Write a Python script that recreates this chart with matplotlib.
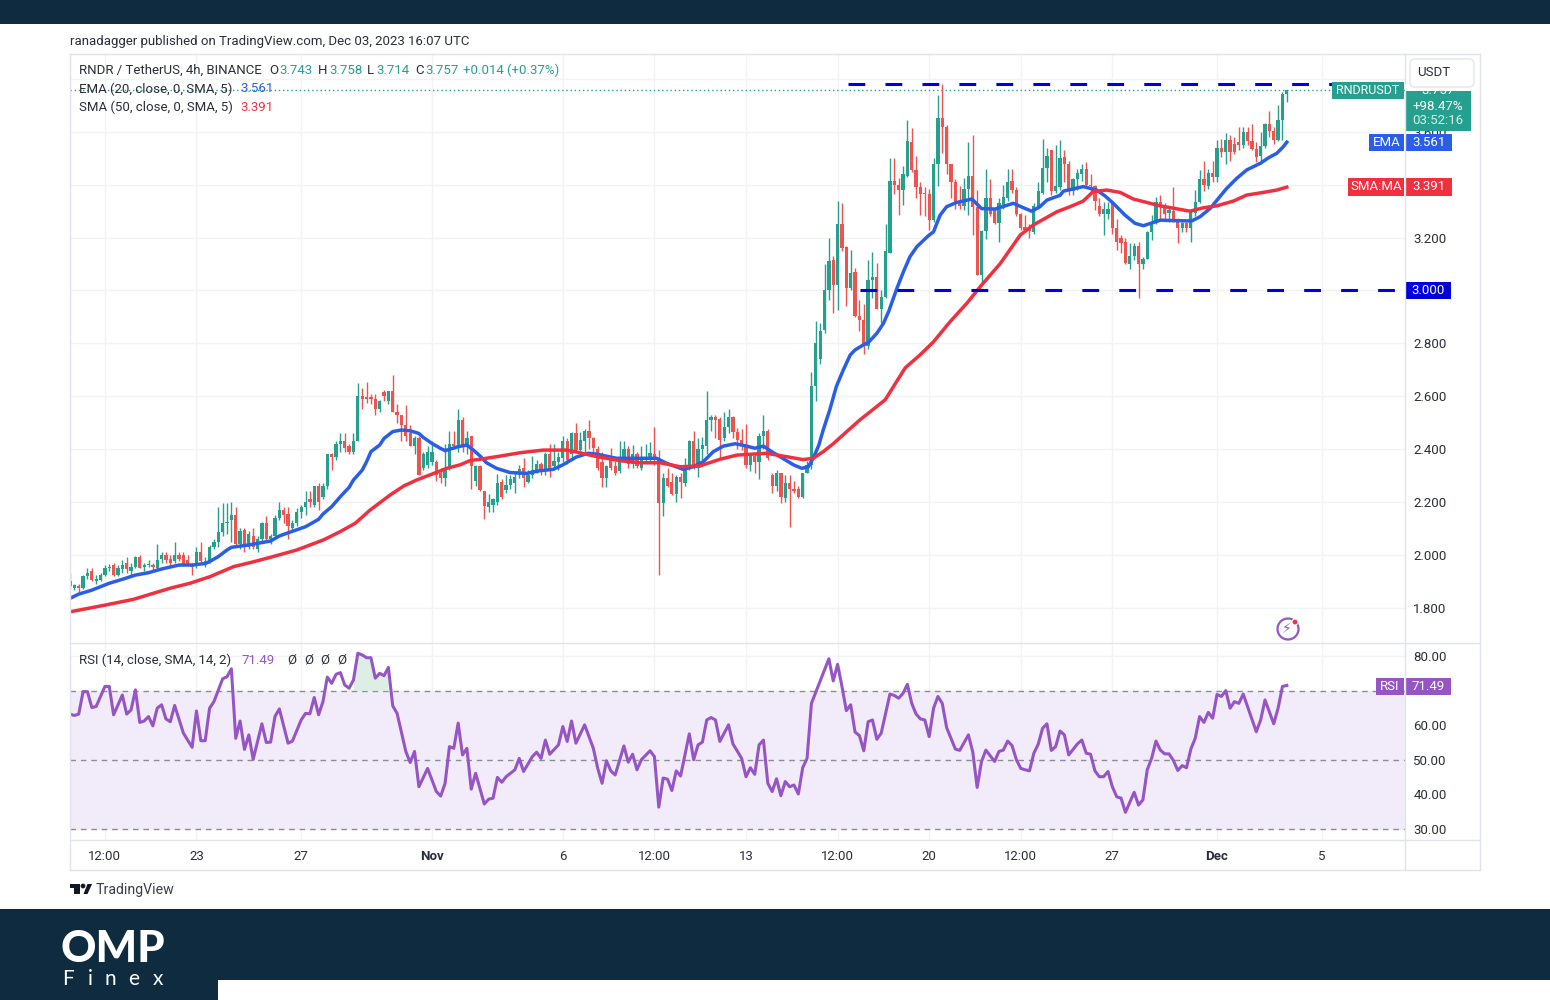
import numpy as np
from matplotlib import pyplot as plt
from matplotlib.patches import Rectangle, FancyBboxPatch, Circle, Polygon
from matplotlib.lines import Line2D
from matplotlib.transforms import Affine2D

plt.rcParams['font.family'] = ['Roboto', 'DejaVu Sans']

# 4h candles
opens = [1.90,1.875,1.88,1.875,1.92,1.94,1.90,1.905,1.925,1.95,
    1.96,1.925,1.945,1.97,1.94,1.955,1.99,1.955,1.96,1.96,
    1.95,1.985,2.0,1.985,1.975,2.0,2.0,1.98,1.96,1.96,
    2.01,1.965,1.975,2.03,2.05,2.085,2.12,2.13,2.15,2.04,
    2.095,2.03,2.07,2.02,2.06,2.12,2.06,2.07,2.14,2.17,
    2.155,2.1,2.12,2.16,2.18,2.21,2.19,2.26,2.22,2.26,
    2.38,2.37,2.42,2.43,2.41,2.39,2.43,2.6,2.595,2.595,
    2.59,2.55,2.615,2.58,2.62,2.54,2.53,2.49,2.46,2.41,
    2.44,2.33,2.34,2.35,2.35,2.31,2.29,2.33,2.42,2.41,
    2.51,2.41,
    2.45,2.28,2.335,2.24,2.18,2.19,2.2,2.275,2.245,2.265,
    2.27,2.30,2.33,2.275,2.30,2.32,2.345,2.32,2.38,2.335,
    2.35,2.365,2.43,2.38,2.46,2.395,2.43,2.47,2.44,2.40,
    2.35,2.29,2.36,2.335,2.315,2.365,2.40,2.345,2.38,2.33,
    2.365,2.37,2.38,2.36,2.195,2.29,2.275,2.23,2.295,2.27,
    2.325,2.43,2.33,2.40,2.41,2.51,2.52,2.515,2.44,2.485,
    2.52,2.465,2.435,2.415,2.34,2.375,2.35,2.45,2.47,2.30,
    2.26,2.31,2.215,2.27,2.25,2.25,2.22,2.31,2.34,
    2.64,2.74,2.85,3.0,3.115,3.02,3.25,3.165,3.01,3.07,
    2.905,2.89,2.79,3.04,3.05,2.93,2.975,3.14,3.415,3.40,
    3.38,3.435,3.56,3.455,3.39,3.37,3.365,3.265,3.48,3.654,
    3.62,3.478,3.41,3.335,3.32,3.385,3.435,3.315,3.058,3.225,
    3.35,3.31,3.255,3.325,3.35,3.415,3.38,3.29,3.24,3.235,
    3.22,3.32,3.37,3.465,3.53,3.375,
    3.39,3.505,3.48,3.375,3.42,3.44,3.46,3.40,3.395,3.32,
    3.29,3.29,3.33,3.235,3.20,3.185,3.10,3.13,3.17,3.10,
    3.12,3.22,3.26,3.335,3.32,3.295,3.30,3.265,3.235,3.255,
    3.235,3.295,3.335,3.42,3.395,3.445,3.43,3.54,3.525,3.57,
    3.555,3.56,3.55,3.60,3.565,3.535,3.51,3.545,3.63,3.605,
    3.57,3.645,3.743]
closes = [1.88,1.885,1.875,1.92,1.93,1.905,1.91,1.925,1.95,1.955,
    1.925,1.95,1.96,1.945,1.955,1.99,1.95,1.96,1.965,1.955,
    1.98,2.0,1.98,1.97,2.0,1.985,1.965,1.965,1.955,2.01,
    1.975,1.975,2.03,2.05,2.085,2.12,2.125,2.15,2.04,2.09,
    2.03,2.08,2.03,2.06,2.12,2.06,2.07,2.14,2.17,2.15,
    2.11,2.12,2.16,2.18,2.2,2.2,2.26,2.2,2.26,2.38,
    2.37,2.42,2.43,2.405,2.39,2.43,2.6,2.59,2.59,2.59,
    2.55,2.58,2.6,2.62,2.54,2.53,2.49,2.45,2.41,2.44,
    2.3,2.38,2.39,2.39,2.3,2.29,2.33,2.42,2.41,2.51,
    2.41,2.44,
    2.335,2.335,2.245,2.185,2.2,2.21,2.27,2.22,2.265,2.285,
    2.295,2.325,2.29,2.30,2.32,2.345,2.315,2.38,2.325,2.355,
    2.37,2.43,2.36,2.46,2.395,2.435,2.47,2.44,2.405,2.33,
    2.29,2.335,2.33,2.31,2.365,2.40,2.345,2.38,2.335,2.365,
    2.37,2.385,2.37,2.195,2.29,2.26,2.23,2.295,2.275,2.325,
    2.43,2.33,2.40,2.415,2.51,2.52,2.51,2.435,2.485,2.52,
    2.465,2.435,2.415,2.34,2.375,2.35,2.45,2.47,2.365,2.26,
    2.31,2.22,2.27,2.25,2.24,2.22,2.31,2.34,2.64,
    2.80,2.845,3.0,3.11,3.02,3.25,3.16,3.01,3.065,2.905,
    2.89,2.79,3.04,3.05,2.93,2.975,3.15,3.415,3.40,3.38,
    3.44,3.565,3.455,3.39,3.365,3.365,3.265,3.48,3.654,3.617,
    3.478,3.41,3.333,3.32,3.385,3.435,3.315,3.058,3.225,3.35,
    3.29,3.255,3.33,3.355,3.41,3.38,3.29,3.235,3.23,3.225,
    3.32,3.375,3.465,3.51,3.375,3.395,
    3.50,3.48,3.375,3.42,3.445,3.46,3.40,3.395,3.34,3.29,
    3.31,3.31,3.235,3.185,3.18,3.105,3.13,3.17,3.10,3.12,
    3.22,3.26,3.335,3.32,3.29,3.305,3.265,3.235,3.255,3.235,
    3.30,3.335,3.42,3.40,3.445,3.43,3.54,3.525,3.57,3.525,
    3.525,3.55,3.60,3.565,3.535,3.505,3.545,3.63,3.605,3.57,
    3.645,3.745,3.757]
highs = [1.93,1.89,1.89,1.925,1.95,1.95,1.925,1.93,1.96,1.965,
    1.97,1.96,1.98,1.99,1.97,1.995,2.0,1.97,1.98,1.97,
    2.04,2.01,2.01,2.0,2.05,2.01,2.01,2.0,1.97,2.03,
    2.05,1.99,2.035,2.06,2.18,2.195,2.195,2.2,2.18,2.1,
    2.1,2.09,2.1,2.07,2.125,2.145,2.08,2.15,2.2,2.18,
    2.18,2.13,2.175,2.19,2.24,2.24,2.26,2.27,2.27,2.38,
    2.385,2.43,2.46,2.46,2.42,2.46,2.65,2.63,2.655,2.61,
    2.61,2.585,2.625,2.62,2.68,2.57,2.53,2.565,2.49,2.45,
    2.45,2.39,2.41,2.43,2.36,2.33,2.42,2.47,2.47,2.55,
    2.52,2.47,
    2.45,2.34,2.34,2.24,2.23,2.215,2.305,2.285,2.30,2.30,
    2.31,2.34,2.365,2.32,2.375,2.36,2.35,2.39,2.42,2.42,
    2.39,2.45,2.44,2.465,2.5,2.465,2.475,2.51,2.445,2.41,
    2.39,2.34,2.405,2.355,2.43,2.43,2.41,2.415,2.39,2.41,
    2.42,2.425,2.485,2.395,2.31,2.33,2.31,2.30,2.31,2.365,
    2.435,2.47,2.44,2.445,2.62,2.53,2.53,2.52,2.54,2.55,
    2.525,2.48,2.475,2.495,2.385,2.385,2.46,2.53,2.475,2.31,
    2.32,2.31,2.30,2.30,2.28,2.26,2.31,2.355,2.69,
    2.885,2.875,3.1,3.2,3.13,3.34,3.33,3.17,3.155,3.085,
    2.965,2.95,3.115,3.145,3.105,3.0,3.25,3.5,3.5,3.425,
    3.47,3.645,3.615,3.51,3.41,3.39,3.385,3.50,3.74,3.783,
    3.625,3.48,3.42,3.395,3.425,3.56,3.59,3.38,3.23,3.46,
    3.42,3.315,3.35,3.40,3.46,3.46,3.39,3.295,3.285,3.25,
    3.33,3.41,3.575,3.54,3.53,3.55,
    3.57,3.53,3.49,3.425,3.46,3.48,3.485,3.44,3.40,3.35,
    3.335,3.335,3.34,3.27,3.21,3.20,3.18,3.18,3.185,3.125,
    3.225,3.285,3.355,3.36,3.33,3.32,3.39,3.275,3.26,3.26,
    3.305,3.38,3.455,3.49,3.46,3.49,3.57,3.575,3.595,3.59,
    3.58,3.62,3.62,3.62,3.63,3.56,3.60,3.635,3.68,3.62,
    3.70,3.75,3.758]
lows = [1.87,1.865,1.86,1.87,1.91,1.90,1.89,1.90,1.92,1.94,
    1.92,1.92,1.93,1.93,1.92,1.95,1.95,1.94,1.955,1.94,
    1.945,1.97,1.97,1.955,1.97,1.975,1.96,1.96,1.925,1.95,
    1.965,1.955,1.97,2.02,2.03,2.07,2.08,2.05,2.03,2.02,
    2.01,2.02,2.02,2.01,2.05,2.05,2.04,2.06,2.13,2.12,
    2.06,2.09,2.11,2.14,2.15,2.18,2.18,2.17,2.21,2.25,
    2.32,2.36,2.39,2.39,2.38,2.38,2.43,2.55,2.575,2.57,
    2.53,2.54,2.58,2.57,2.54,2.5,2.43,2.43,2.41,2.38,
    2.3,2.32,2.33,2.34,2.28,2.27,2.26,2.32,2.40,2.39,
    2.39,2.38,
    2.25,2.26,2.24,2.135,2.16,2.16,2.19,2.21,2.235,2.25,
    2.235,2.29,2.255,2.27,2.29,2.31,2.30,2.30,2.295,2.33,
    2.32,2.35,2.345,2.36,2.39,2.38,2.39,2.40,2.39,2.32,
    2.255,2.255,2.32,2.30,2.31,2.36,2.33,2.33,2.33,2.32,
    2.35,2.35,2.34,1.925,2.145,2.255,2.225,2.2,2.215,2.26,
    2.32,2.325,2.295,2.36,2.38,2.47,2.44,2.36,2.43,2.46,
    2.44,2.40,2.395,2.33,2.315,2.31,2.285,2.40,2.36,2.235,
    2.24,2.195,2.20,2.105,2.235,2.215,2.215,2.31,2.325,
    2.58,2.72,2.84,2.965,2.915,2.925,3.15,2.94,3.0,2.90,
    2.845,2.76,2.78,2.97,2.93,2.875,2.97,3.14,3.365,3.285,
    3.325,3.43,3.45,3.35,3.285,3.28,3.23,3.26,3.395,3.52,
    3.44,3.35,3.31,3.31,3.305,3.285,3.21,3.058,3.03,3.195,
    3.28,3.25,3.185,3.31,3.34,3.37,3.28,3.23,3.22,3.20,
    3.215,3.31,3.365,3.41,3.36,3.37,
    3.38,3.41,3.36,3.36,3.38,3.415,3.39,3.37,3.305,3.28,
    3.21,3.27,3.215,3.155,3.14,3.10,3.08,3.115,2.97,3.08,
    3.12,3.19,3.25,3.265,3.27,3.26,3.26,3.18,3.22,3.22,
    3.185,3.28,3.33,3.375,3.385,3.41,3.41,3.505,3.48,3.49,
    3.515,3.53,3.54,3.55,3.53,3.485,3.48,3.54,3.58,3.555,
    3.565,3.57,3.714]

# moving averages
ema_x = [0,2,5,7,9,12,15,18,21,25,28,31,32,34,36,37,41,43,46,48,50,54,57,58,60,62,64,65,67,68,69,71,72,74,76,78,80,81,83,85,86,89,91,
    92.5,94,95.5,97.8,100.9,104.7,107.8,110.8,113,116,118.8,120.7,125.3,130,134.5,136.8,140.6,142.9,145.2,147.5,149.8,152.5,155.2,157,159,160.9,162.8,165.9,167.8,169.3,170.4,171.7,172.7,174.2,175.7,177.3,
    178.9,180,181.9,183.1,185,186.5,187.7,189.6,191.1,192.6,194.2,196.8,198,199.5,201,203.3,206.8,209,212.1,216.3,218.6,220.5,222.4,224,227,
    227.8,232.3,235.4,237.3,239.2,241.9,244.2,246.1,250,253.7,257.2,259.1,261.4,263.3,265.2,267.5,269.8,272.9,274.8,276.7,278.2,279]
ema_y = [1.835,1.851,1.866,1.879,1.892,1.907,1.923,1.932,1.946,1.961,1.961,1.967,1.974,1.993,2.018,2.028,2.037,2.043,2.052,2.071,2.083,2.106,2.134,2.154,2.182,2.22,2.255,2.283,2.32,2.352,2.39,2.415,2.44,2.466,2.472,2.469,2.459,2.444,2.421,2.402,2.394,2.409,2.415,
    2.396,2.374,2.348,2.327,2.311,2.308,2.318,2.323,2.34,2.369,2.384,2.381,2.365,2.365,2.365,2.346,2.323,2.333,2.352,2.39,2.411,2.42,2.411,2.403,2.411,2.39,2.371,2.34,2.327,2.333,2.365,2.415,2.472,2.548,2.636,2.699,
    2.756,2.775,2.794,2.804,2.838,2.875,2.92,3.008,3.071,3.128,3.166,3.207,3.222,3.285,3.317,3.333,3.346,3.31,3.308,3.33,3.313,3.30,3.317,3.342,3.36,
    3.376,3.393,3.38,3.358,3.33,3.285,3.254,3.245,3.266,3.264,3.263,3.279,3.31,3.348,3.386,3.424,3.456,3.481,3.502,3.519,3.544,3.561]
sma_x = [0,7,14.5,18.3,22.9,27.5,32.1,34.8,37.5,41.3,45.9,52,58.1,61.9,65.4,68.8,73.4,76.5,79.5,83,86.4,89.4,91.7,95.5,99.3,103.2,108.5,113.9,116.9,120,126.1,130.7,135.3,139.9,144.4,149,152.9,159.7,164.3,168.1,170.4,172.7,175,178.1,181.1,
    186.9,191.5,194.9,198,201.8,205.6,209,213.3,217.9,220.9,226.3,229.3,232.3,234.6,237.7,240.8,243.8,246.9,250,256.8,259.9,262.9,266.7,269.8,273.6,276.7,279]
sma_y = [1.784,1.806,1.831,1.85,1.873,1.892,1.917,1.936,1.955,1.97,1.99,2.018,2.056,2.087,2.119,2.169,2.226,2.26,2.283,2.305,2.327,2.34,2.356,2.365,2.375,2.386,2.396,2.396,2.386,2.374,2.356,2.348,2.348,2.333,2.336,2.361,2.377,2.384,2.371,2.36,2.365,2.39,2.42,2.466,2.51,
    2.586,2.707,2.756,2.806,2.882,2.951,3.02,3.102,3.21,3.248,3.298,3.317,3.338,3.374,3.38,3.371,3.346,3.333,3.32,3.30,3.313,3.32,3.338,3.361,3.371,3.38,3.391]

# RSI pane
rsi_x = [0,1,2,3,4,5,6,8,9,10,12,13,14,15,16,17,18,19,20,21,22,23,24,26,28,29,30,31,32,33,35,36,37,38,39,40,41,42,44,45,46,47,48,
    50,51,53,54,55,56,57,58,59,60,61,62,63,64,65,66,67,68,69,70,71,72,73,74,75,77,78,79,80,82,84,85,86,87,88,89,90,91,92,93,95,96,97,98,99,
    100,102,103,104,106,107,108,109,110,112,113,114,115,116,118,120,121,122,123,124,125,127,128,129,130,131,133,134,135,136,137,138,139,140,142,143,144,145,146,147,148,149,
    151,152,154,155,156,157,158,159,160,161,162,163,164,165,166,167,168,169,170,174,175,176,177,178,179,180,181,182,183,184,185,186,188,189,190,191,192,193,194,195,196,197,198,199,
    200,201,203,204,206,207,208,209,210,212,213,214,215,216,217,218,219,220,221,222,223,224,225,226,227,228,229,231,232,233,234,235,236,237,238,239,240,241,242,244,245,246,247,248,249,
    250,251,252,253,254,255,256,257,258,259,260,261,262,263,264,265,266,267,268,269,272,273,274,276,277,278,279]
rsi_y = [63.2,62.8,63.2,69.7,69.7,65.1,65.4,71.2,71.2,63,68.7,63.2,64.4,70.2,60.8,61.2,62.5,59.8,64.9,65.9,61.8,61,65.7,57.7,53.6,64.1,55.5,55.5,64.9,66.8,73.4,74,76.3,56.2,61.2,53,57.2,50.1,60.4,55,55.1,62.5,64.7,
    54.8,55.4,61.5,63.4,63.3,68,63,66.8,73.9,72.1,74.7,75.2,71.6,70.7,73.1,80.8,80.3,79.5,79.5,73.6,75,74.3,76.7,65.6,63.4,52.4,49.2,52.4,42.2,47.5,40.8,39.5,43.2,53.8,53.3,60.6,51.4,53.3,41.5,46.1,37.2,38.6,38.9,44.9,43.5,
    45.1,47.1,50.4,46.6,50.9,52.2,50.4,55.7,51.6,54.3,59.6,55.3,61.2,54.8,60.1,53.3,47.5,43.2,49.7,46.8,45.6,54,49.3,51.6,47.1,50,52.6,50.9,36.3,44.7,44.4,41.1,46.8,45.3,57.5,50,54.3,55.1,61.5,62.2,61.5,55.3,
    60.1,54.6,50.4,45.1,47.7,45.8,54.3,55.7,43.2,40.8,44.5,39.6,43.7,42.2,42.7,40.1,47.7,50.4,66.3,79.2,72.8,77.6,71.2,64.2,65.9,58,57,52.6,61,61.5,55.9,57.7,69,68.6,67.8,69.2,71.8,66.3,63.2,61.8,61.5,56.7,64.9,68.3,
    66.3,59.3,53.1,52.7,57.2,52.2,42,49.5,52.8,49.5,52.4,52.8,55.4,54.1,50,47.5,47.1,46.8,51.9,54.5,59.1,60.4,52.7,53.8,58.3,57.2,51.4,54.6,55.7,51.9,51.6,46.8,45.1,45.1,46.6,42.2,39.3,38.9,34.8,40.6,36.9,38.4,47.1,50.4,55.4,
    52.8,51.7,51.7,49.8,46.9,48.3,47.7,53.1,56.2,62.5,60.8,63.7,62,68.9,68.3,70,64.9,66.8,66.3,69,58.1,61.5,67.3,60.4,64.9,71.2,71.49]

price_ticks = [1.8,2.0,2.2,2.4,2.6,2.8,3.0,3.2,3.4,3.6,3.8]
price_hidden = [3.4,3.8]
rsi_ticks = [30,40,50,60,70,80]
rsi_hidden = [70]
time_ticks = [8,29,53,83,113,134,155,176,197,218,239,263,287]
time_labels = ['12:00','23','27','Nov','6','12:00','13','12:00','20','12:00','27','Dec','5']

W, H = 1550, 1000
NAVY = '#0e2b40'
GREEN = '#26a08e'
RED = '#ef5350'
BLUE = '#2a5ee8'
PINK = '#f0303f'
PURPLE = '#9655c4'
TXT = '#2a2e39'
GRID = '#f1f3f6'

fig = plt.figure(figsize=(W / 100, H / 100), dpi=100, facecolor='white')
px = Affine2D().scale(1, -1).translate(0, H)


def box(x0, y0, x1, y1, color, z=1):
    fig.add_artist(Rectangle((x0, y0), x1 - x0, y1 - y0, facecolor=color, edgecolor='none', transform=px, zorder=z))


def label(x, y, s, color=TXT, size=9.5, ha='left', z=3, **kw):
    return fig.text(x, y, s, color=color, fontsize=size, ha=ha, va='center', transform=px, zorder=z, **kw)


def line(x0, y0, x1, y1):
    fig.add_artist(Line2D([x0, x1], [y0, y1], color='#e0e3eb', lw=1, transform=px, zorder=2))


# bands of the page
box(0, 0, W, 24, NAVY)
box(0, 909, W, H, NAVY)
box(218, 980, W, H, 'white')

# price pane
ax = fig.add_axes([70 / W, 1 - 643 / H, 1335 / W, 588 / H])
xs = np.arange(len(closes))
o = np.array(opens)
c = np.array(closes)
colors = np.where(c >= o, GREEN, RED)
ax.vlines(xs, lows, highs, colors=colors, lw=1, zorder=3)
ax.bar(xs, np.maximum(np.abs(c - o), 0.003), bottom=np.minimum(o, c), width=0.75, color=colors, zorder=3)
ax.plot(ema_x, ema_y, color=BLUE, lw=2.5, zorder=4)
ax.plot(sma_x, sma_y, color=PINK, lw=2.5, zorder=4)
ax.axhline(closes[-1], color=GREEN, lw=1, ls=(0, (1, 2)), zorder=2)
ax.plot([178.4, 289.4], [3.783, 3.783], color='#0000dd', lw=2.2, dashes=(5.5, 6.6), dash_capstyle='butt', zorder=5)
ax.plot([181.1, 306.1], [3.0, 3.0], color='#0000dd', lw=2.2, dashes=(5.5, 6.6), dash_capstyle='butt', zorder=5)
ax.set_xlim(0, 306.1)
ax.set_ylim(1.666, 3.891)
ax.set_xticks(time_ticks)
ax.set_yticks(price_ticks)
ax.set_yticklabels(['' if t in price_hidden else '%.3f' % t for t in price_ticks], fontsize=9.5, color=TXT)
ax.yaxis.tick_right()
ax.tick_params(axis='y', length=0, pad=6)
ax.tick_params(axis='x', length=0, labelbottom=False)
ax.grid(color=GRID, lw=1)
ax.set_axisbelow(True)
for s in ax.spines.values():
    s.set_visible(False)

# rsi pane
ax2 = fig.add_axes([70 / W, 1 - 840 / H, 1335 / W, 197 / H])
ax2.axhspan(30, 70, color='#f2ecfa', lw=0, zorder=1)
for level in [30, 50, 70]:
    ax2.axhline(level, color='#8a8d96', lw=1, dashes=(4, 3.5), zorder=2)
rx = np.array(rsi_x)
ry = np.array(rsi_y)
peak = (rx >= 65) & (rx <= 74)
ax2.fill_between(rx[peak], 70, ry[peak], where=ry[peak] > 70, color='#cfe9da', alpha=0.7, lw=0, zorder=2)
ax2.plot(rsi_x, rsi_y, color=PURPLE, lw=2.2, zorder=4)
ax2.set_xlim(0, 306.1)
ax2.set_ylim(26.8, 83.76)
ax2.set_xticks(time_ticks)
ax2.set_xticklabels(time_labels, fontsize=9.5, color=TXT)
for t, s in zip(ax2.get_xticklabels(), time_labels):
    if s in ('Nov', 'Dec'):
        t.set_fontweight('bold')
ax2.set_yticks(rsi_ticks)
ax2.set_yticklabels(['' if t in rsi_hidden else '%.2f' % t for t in rsi_ticks], fontsize=9.5, color=TXT)
ax2.yaxis.tick_right()
ax2.tick_params(axis='y', length=0, pad=6)
ax2.tick_params(axis='x', length=0, pad=7)
ax2.grid(color=GRID, lw=1)
ax2.set_axisbelow(True)
for s in ax2.spines.values():
    s.set_visible(False)

# frame of the chart
line(70, 54, 1480, 54)
line(70, 870, 1480, 870)
line(70, 54, 70, 870)
line(1480, 54, 1480, 870)
line(1405, 54, 1405, 870)
line(70, 643, 1480, 643)
line(70, 840, 1480, 840)

# header text
label(70, 41, 'ranadagger published on TradingView.com, Dec 03, 2023 16:07 UTC', size=9.5)
label(79, 70.5, 'RNDR / TetherUS, 4h, BINANCE')
for x, s in [(269, 'O'), (318, 'H'), (367, 'L'), (415, 'C')]:
    label(x, 70.5, s)
for x, s in [(279, '3.743'), (329, '3.758'), (376, '3.714'), (425, '3.757'), (463, '+0.014 (+0.37%)')]:
    label(x, 70.5, s, color=GREEN)
label(79, 89, 'EMA (20, close, 0, SMA, 5)')
label(240, 89, '3.561', color=BLUE)
label(79, 107.5, 'SMA (50, close, 0, SMA, 5)')
label(240, 107.5, '3.391', color=PINK)
label(79, 660.5, 'RSI (14, close, SMA, 14, 2)')
label(241, 660.5, '71.49', color=PURPLE)
for x in [287, 304, 320, 337]:
    label(x, 660.5, 'Ø')

# labels on the price scale
box(1332, 82, 1404, 99, GREEN)
label(1368, 90.5, 'RNDRUSDT', color='white', size=9, ha='center')
box(1405, 91, 1471, 131, GREEN)
label(1438, 90, '3.757', color='white', ha='center', z=3)
box(1405, 84, 1471, 91, 'white', z=4)
label(1438, 106, '+98.47%', color='white', ha='center')
label(1438, 121, '03:52:16', color='#d4eee8', ha='center')
box(1369, 134, 1404, 151, BLUE)
label(1386.5, 142.5, 'EMA', color='white', ha='center')
box(1405, 134, 1452, 151, BLUE)
label(1429, 142.5, '3.561', color='white', ha='center')
box(1348, 178, 1404, 196, PINK)
label(1376, 187, 'SMA:MA', color='white', ha='center')
box(1405, 178, 1452, 196, PINK)
label(1429, 187, '3.391', color='white', ha='center')
box(1405, 282, 1451, 299, '#0000dd')
label(1428, 290.5, '3.000', color='white', ha='center')
box(1376, 678, 1404, 695, PURPLE)
label(1390, 686.5, 'RSI', color='white', ha='center')
box(1405, 678, 1451, 695, PURPLE)
label(1428, 686.5, '71.49', color='white', ha='center')
fig.add_artist(FancyBboxPatch((1412, 61), 60, 24, boxstyle='round,pad=2,rounding_size=5', facecolor='white',
                              edgecolor='#e8eaf0', lw=1.2, transform=px, zorder=5))
label(1434, 73, 'USDT', ha='center', z=6)

# bolt icon
fig.add_artist(Circle((1288, 629), 10.5, facecolor='white', edgecolor=PURPLE, lw=1.6, transform=px, zorder=3))
fig.text(1287, 629, '⚡', color=PURPLE, fontsize=10, ha='center', va='center', family='DejaVu Sans', transform=px, zorder=4)
fig.add_artist(Circle((1295, 622), 3, facecolor=PINK, edgecolor='white', lw=0.8, transform=px, zorder=5))

# TradingView mark
box(70, 884, 79.5, 888, '#131722')
box(74, 884, 79.5, 894, '#131722')
fig.add_artist(Circle((83, 886), 2.4, facecolor='#131722', edgecolor='none', transform=px, zorder=3))
fig.add_artist(Polygon([(83.5, 894), (87.5, 884), (92, 884), (87.5, 894)], closed=True, facecolor='#131722', edgecolor='none', transform=px, zorder=3))
label(96, 890, 'TradingView', color='#3a3e48', size=10.2)

# OMP Finex logo
fig.text(113, 949, 'OMP', color='white', fontsize=31.5, fontweight='black', family='Lato', ha='center', va='center', transform=px, zorder=3)
for x, s in [(62, 'F'), (88, 'i'), (105, 'n'), (128, 'e'), (153, 'x')]:
    fig.text(x, 979, s, color='white', fontsize=15, family='Lato', ha='left', va='center', transform=px, zorder=3)

fig.savefig('out.png', dpi=100)
